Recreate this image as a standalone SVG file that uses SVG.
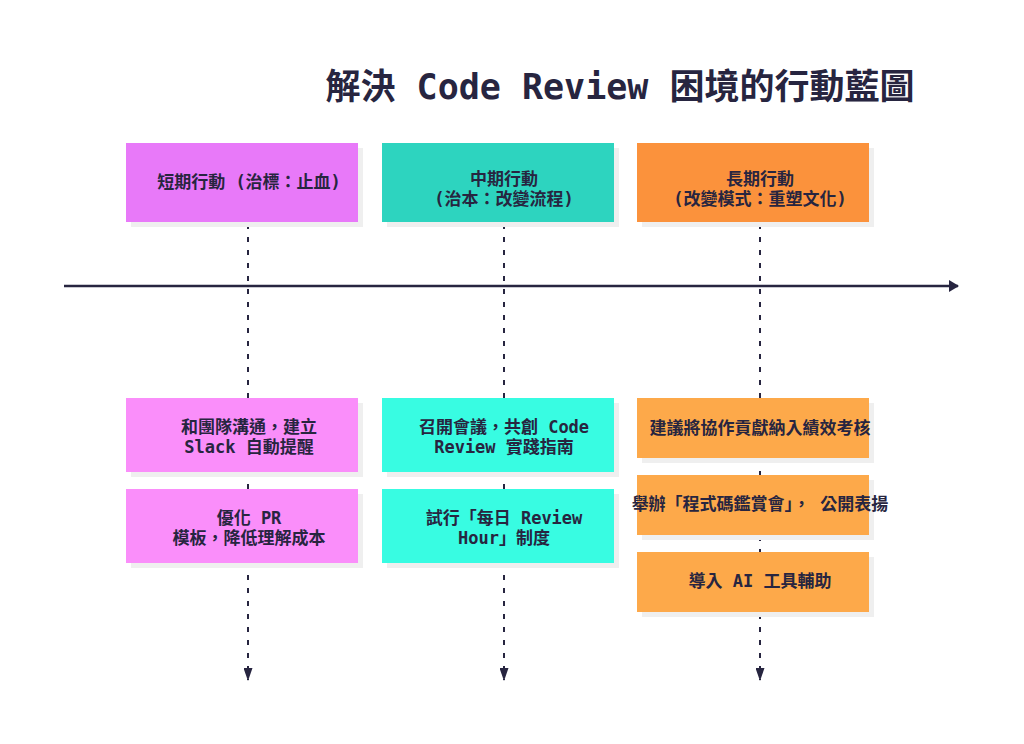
<svg xmlns="http://www.w3.org/2000/svg" width="1024" height="744" viewBox="0 0 1024 744">
<style>
.t{font-family:"DejaVu Sans Mono","Noto Sans CJK TC",monospace;font-weight:bold;fill:#272540;text-anchor:middle}
.title{font-size:35px}
.lb{font-size:17px}
.sh{fill:#efefef}
.dash{stroke:#272540;stroke-width:2;stroke-dasharray:5 8;fill:none}
</style>
<defs>
<marker id="ah" viewBox="0 0 13 9" refX="12" refY="4.5" markerWidth="13" markerHeight="9" markerUnits="userSpaceOnUse" orient="auto">
<path d="M0,0 L13,4.5 L0,9 z" fill="#272540"/>
</marker>
<marker id="ah2" viewBox="0 0 10 12" refX="9" refY="6" markerWidth="10" markerHeight="12" markerUnits="userSpaceOnUse" orient="auto">
<path d="M0,0 L10,6 L0,12 z" fill="#272540"/>
</marker>
</defs>
<rect width="1024" height="744" fill="#ffffff"/>
<text class="t title" x="620" y="99">解決 Code Review 困境的行動藍圖</text>
<g id="connectors">
<line x1="64" y1="286" x2="958" y2="286" stroke="#272540" stroke-width="2.5" marker-end="url(#ah2)"/>
<line class="dash" x1="248" y1="224" x2="248" y2="680" marker-end="url(#ah)"/>
<line class="dash" x1="504" y1="224" x2="504" y2="680" marker-end="url(#ah)"/>
<line class="dash" x1="760" y1="224" x2="760" y2="680" marker-end="url(#ah)"/>
</g>
<g id="short-head">
<rect class="sh" x="131" y="148" width="232" height="79"/>
<rect x="126" y="143" width="232" height="79" fill="#e879f9"/>
<text class="t lb" x="249" y="188">短期行動 (治標：止血)</text>
</g>
<g id="mid-head">
<rect class="sh" x="387" y="148" width="232" height="79"/>
<rect x="382" y="143" width="232" height="79" fill="#2dd4bf"/>
<text class="t lb" x="504" y="185">中期行動</text>
<text class="t lb" x="504" y="205">(治本：改變流程)</text>
</g>
<g id="long-head">
<rect class="sh" x="642" y="148" width="232" height="79"/>
<rect x="637" y="143" width="232" height="79" fill="#fb923c"/>
<text class="t lb" x="760" y="185">長期行動</text>
<text class="t lb" x="760" y="205">(改變模式：重塑文化)</text>
</g>
<g id="s1">
<rect class="sh" x="131" y="403" width="232" height="74"/>
<rect x="126" y="398" width="232" height="74" fill="#fa8efa"/>
<text class="t lb" x="249" y="433">和團隊溝通，建立</text>
<text class="t lb" x="249" y="453">Slack 自動提醒</text>
</g>
<g id="s2">
<rect class="sh" x="131" y="494" width="232" height="74"/>
<rect x="126" y="489" width="232" height="74" fill="#fa8efa"/>
<text class="t lb" x="249" y="524">優化 PR</text>
<text class="t lb" x="249" y="544">模板，降低理解成本</text>
</g>
<g id="m1">
<rect class="sh" x="387" y="403" width="232" height="74"/>
<rect x="382" y="398" width="232" height="74" fill="#38fce2"/>
<text class="t lb" x="504" y="433">召開會議，共創 Code</text>
<text class="t lb" x="504" y="453">Review 實踐指南</text>
</g>
<g id="m2">
<rect class="sh" x="387" y="494" width="232" height="74"/>
<rect x="382" y="489" width="232" height="74" fill="#38fce2"/>
<text class="t lb" x="504" y="524">試行「每日 Review</text>
<text class="t lb" x="504" y="544">Hour」制度</text>
</g>
<g id="l1">
<rect class="sh" x="642" y="403" width="232" height="60"/>
<rect x="637" y="398" width="232" height="60" fill="#fda94a"/>
<text class="t lb" x="760" y="434">建議將協作貢獻納入績效考核</text>
</g>
<g id="l2">
<rect class="sh" x="642" y="480" width="232" height="60"/>
<rect x="637" y="475" width="232" height="60" fill="#fda94a"/>
<text class="t lb" x="760" y="510">舉辦「程式碼鑑賞會」， 公開表揚</text>
</g>
<g id="l3">
<rect class="sh" x="642" y="557" width="232" height="60"/>
<rect x="637" y="552" width="232" height="60" fill="#fda94a"/>
<text class="t lb" x="760" y="587">導入 AI 工具輔助</text>
</g>
</svg>
